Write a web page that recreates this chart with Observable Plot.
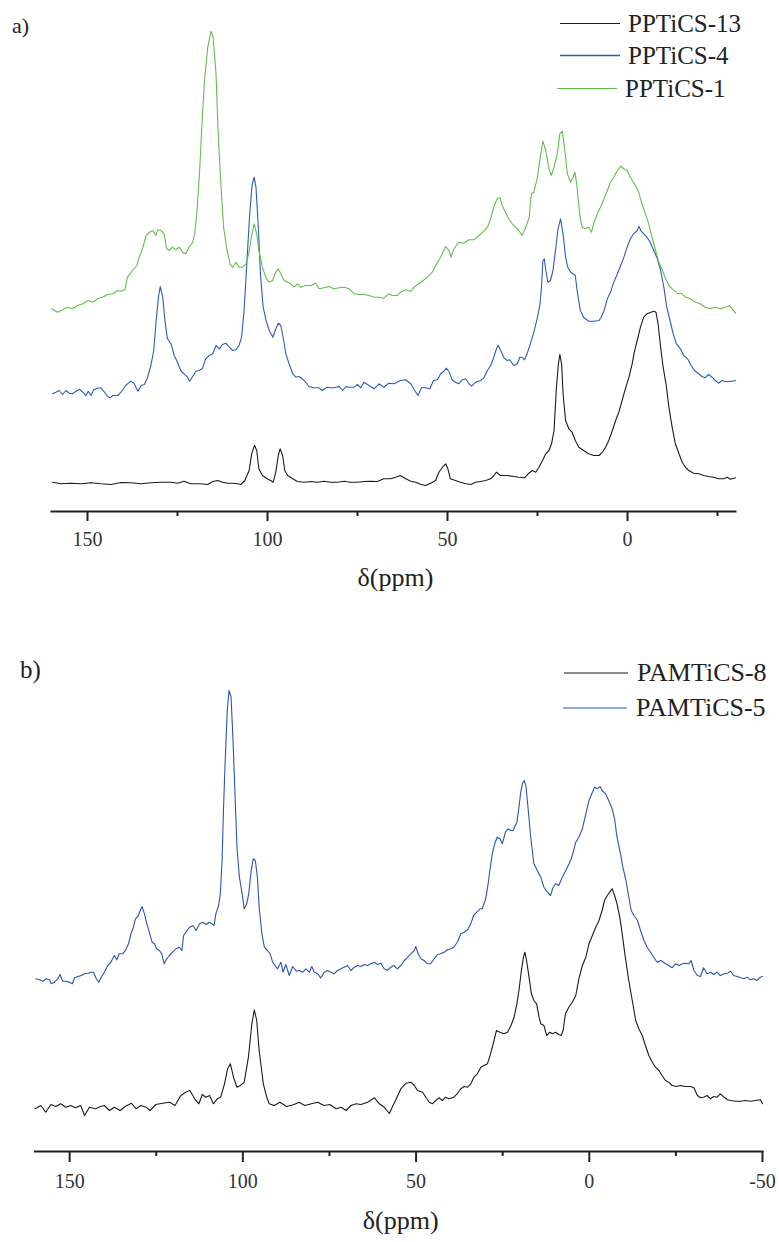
<!DOCTYPE html>
<html><head><meta charset="utf-8">
<script src="https://cdn.jsdelivr.net/npm/d3@7"></script>
<script src="https://cdn.jsdelivr.net/npm/@observablehq/plot@0.6"></script>
<style>
body{margin:0;background:#fff;}
#wrap{position:relative;width:779px;height:1242px;overflow:hidden;font-family:"Liberation Serif","Times New Roman",serif;color:#222;}
.panel{position:absolute;left:0;}
.lbl{position:absolute;line-height:1;white-space:nowrap;}
.leg{position:absolute;line-height:1;display:flex;align-items:center;white-space:nowrap;transform:translateY(-50%);}
.leg svg{display:block;}
</style></head><body>
<div id="wrap">
  <div id="pa" class="panel" style="top:0"></div>
  <div id="pb" class="panel" style="top:610px"></div>
</div>
<script>
// ---------- tick labels ----------
const ticksA = [150, 100, 50, 0];
const minorA = [125, 75, 25, -25];
const ticksB = [150, 100, 50, 0, -50];
const minorB = [125, 75, 25, -25];

// ---------- series names ----------
const namesA = ["PPTiCS-13", "PPTiCS-4", "PPTiCS-1"];
const namesB = ["PAMTiCS-8", "PAMTiCS-5"];

// ---------- panel a: [ppm, intensity (a.u., stacked offset)] ----------
const pptics13 = [[159.7,29.3],[157.4,27.7],[154.6,28.3],[151.8,27.7],[149.0,28.7],[146.3,27.7],[143.5,27],[140.7,29],[138.0,28.7],[135.1,27.7],[132.4,28.7],[129.6,29.3],[126.8,29.3],[125.0,28.3],[123.2,30.3],[121.3,27.7],[118.6,27.7],[116.6,27],[115.2,30],[113.9,31],[112.5,29.3],[111.1,28.3],[109.7,28.3],[108.3,27.7],[107.4,27],[106.3,31],[105.1,41],[104.4,57.7],[103.6,66.3],[103.0,61],[102.4,42.7],[101.4,36],[100.1,32.7],[99.1,31],[98.4,29.3],[97.7,39.3],[97.0,56],[96.5,62.7],[95.8,56],[95.2,41],[94.4,36],[93.0,32.7],[91.7,30],[89.8,29.3],[88.0,30],[86.1,29.3],[84.3,30.3],[82.5,29.3],[80.6,29.3],[78.7,30.3],[76.9,29.3],[75.0,29.3],[73.2,30],[71.3,30.3],[69.5,30],[67.7,32.7],[65.8,32.7],[64.4,34.3],[63.1,36],[61.6,32.7],[60.2,30.3],[58.8,29.3],[57.4,27],[56.1,26],[54.7,28.3],[53.3,31],[52.4,39.3],[51.4,44.3],[50.5,47.7],[49.9,42.7],[49.2,32.7],[47.8,31],[46.4,29.3],[44.9,27.7],[43.5,27],[42.2,29.3],[40.8,30],[39.4,31],[38.0,32.7],[37.1,36],[36.4,39.3],[35.3,36],[33.4,36],[31.6,35],[30.2,34.3],[28.6,33.7],[27.6,37.7],[26.4,41],[25.5,39.3],[24.6,44.3],[23.6,51],[22.7,57.7],[21.8,61],[21.1,67.7],[20.4,81],[19.8,121],[19.2,147.7],[18.8,157],[18.3,147.7],[17.9,117.7],[17.2,91],[16.3,82.7],[15.4,79.3],[14.5,71],[13.5,64.3],[12.2,61],[10.8,57.7],[9.4,56],[7.9,56],[7.0,59.3],[6.1,64.3],[5.2,71],[4.2,81],[3.3,91],[2.4,99.3],[1.5,111],[0.6,122.7],[-0.4,134.3],[-1.3,147.7],[-1.9,159.3],[-2.7,171],[-3.6,184.3],[-4.5,194.3],[-5.4,197.7],[-6.5,199.3],[-7.3,200.3],[-7.9,199.3],[-8.5,187.7],[-9.2,164.3],[-9.9,144.3],[-10.7,127.7],[-11.5,104.3],[-12.4,84.3],[-13.3,67.7],[-14.3,57.7],[-15.2,49.3],[-16.1,44.3],[-17.0,41],[-18.4,38.3],[-19.8,37.7],[-21.2,36],[-22.5,35],[-23.9,34.3],[-25.3,32.7],[-26.8,32.7],[-27.7,34.3],[-28.6,32.3],[-30.0,33.7]];

const pptics4 = [[159.7,117.7],[158.8,119.3],[157.9,121],[156.9,117],[156.0,121],[155.1,118.3],[154.2,117.7],[153.2,120.3],[152.2,122.3],[151.3,119.3],[150.4,116],[149.8,120.3],[149.0,116],[148.3,121.7],[147.2,123.3],[146.3,123.7],[145.3,119.3],[144.4,115],[143.7,113.7],[143.0,116],[141.6,116],[140.7,119.3],[139.4,126],[138.0,130.3],[137.1,128.3],[136.0,120.3],[135.1,126],[134.2,127],[133.3,134.3],[132.4,146],[131.6,161],[131.0,187.7],[130.3,214.3],[129.8,225],[129.1,214.3],[128.5,191],[127.8,172.7],[126.8,167.7],[125.9,156],[125.0,149.3],[124.1,141],[123.2,137.7],[122.2,134.3],[121.6,130.3],[120.9,134.3],[119.9,140.3],[119.0,141],[118.1,142.7],[117.2,152.7],[116.2,156],[115.2,157.7],[114.3,166],[113.4,162.7],[112.5,167],[111.6,168.3],[110.6,164.3],[109.7,161],[108.8,161.7],[107.9,166],[107.2,174.3],[106.5,201],[105.8,244.3],[105.0,294.3],[104.3,326],[103.7,334.3],[103.2,324.3],[102.6,287.7],[101.9,234.3],[101.2,204.3],[100.4,191],[99.5,181],[98.5,174.3],[97.7,182.7],[97.0,188.3],[96.3,186],[95.5,171],[94.9,157.7],[94.0,147.7],[93.0,137.7],[92.1,134.3],[91.2,135],[89.8,131],[88.5,125],[87.1,123.7],[85.7,123.7],[84.8,121],[83.4,124.3],[82.5,123.7],[81.6,123.7],[80.1,125],[79.1,121],[78.2,125],[77.3,124.3],[75.9,124.3],[75.0,127],[74.1,123.7],[73.2,129.3],[71.8,126],[70.4,122.7],[69.0,127.7],[67.7,124.3],[66.3,128.3],[64.9,127.7],[63.5,130.3],[63.0,131],[61.6,131.7],[60.2,127.7],[59.1,121],[58.2,116],[57.2,123.7],[56.1,123.7],[54.9,122.7],[53.9,131],[52.8,131.7],[51.9,137.7],[51.0,140.3],[50.3,143.3],[49.5,139.3],[48.7,131.7],[47.8,129.3],[46.9,127.7],[45.9,131.7],[45.0,132.7],[44.0,127.7],[43.3,125.3],[42.2,129.3],[40.8,131],[39.9,133.7],[38.9,141],[38.0,146],[37.1,155],[36.4,162.7],[35.9,166],[35.3,161.7],[34.3,153.7],[33.4,151],[32.7,151.7],[31.6,146],[30.6,147.7],[29.9,154.3],[29.3,154.3],[28.6,151.7],[27.9,157.7],[27.0,167.7],[26.0,179.3],[25.0,194.3],[24.3,207.7],[23.9,224.3],[23.5,251],[23.1,252.7],[22.7,241],[22.1,229.3],[21.4,231],[20.7,241],[20.0,261],[19.3,282.7],[18.6,292.7],[17.9,277.7],[17.2,254.3],[16.6,244.3],[15.8,239.3],[15.1,237.7],[14.5,236],[14.0,221],[13.1,201],[12.2,194.3],[10.8,190.3],[9.4,190.3],[7.9,191],[7.3,194.3],[6.5,201],[5.6,212.7],[4.7,219.3],[3.8,229.3],[2.8,237.7],[1.9,246],[1.0,254.3],[0.1,264.3],[-0.8,272.7],[-1.7,277.7],[-2.7,281],[-3.2,285],[-3.8,280.3],[-4.5,277.7],[-5.4,274.3],[-6.3,269.3],[-7.3,261],[-8.3,252.7],[-9.2,241],[-10.1,224.3],[-10.9,204.3],[-11.8,191],[-12.7,177.7],[-13.6,167.7],[-14.7,162.7],[-15.6,156],[-16.7,152.7],[-17.5,147],[-18.6,141],[-19.8,137.7],[-20.7,135],[-21.6,133.7],[-22.5,137],[-23.5,134.3],[-24.4,131],[-25.3,128.3],[-26.3,131],[-27.2,130],[-28.6,130],[-30.0,131]];

const pptics1 = [[159.9,202.7],[158.3,199.3],[156.9,201.7],[155.6,204.3],[154.2,202.7],[152.8,206],[151.3,207.7],[149.9,211],[148.5,209.3],[147.2,212.7],[145.8,214.3],[144.4,217],[143.0,217.7],[141.6,221],[140.7,220.3],[139.6,221.7],[138.9,234.3],[137.5,241],[136.3,246],[135.6,254.3],[134.6,264.3],[133.7,276],[132.8,279.3],[131.9,281],[131.0,276],[130.5,281.7],[129.6,281],[128.7,277.7],[128.0,262.7],[127.3,261],[126.4,264.3],[125.5,261.7],[124.5,264.3],[123.6,259.3],[122.7,257.7],[121.8,264.3],[120.8,269.3],[120.2,277.7],[119.5,304.3],[118.8,344.3],[118.2,387.7],[117.5,431],[116.6,464.3],[115.7,480.3],[115.1,474.3],[114.3,437.7],[113.7,377.7],[112.9,324.3],[112.2,284.3],[111.3,262.7],[110.4,247.7],[109.7,244.3],[108.8,249.3],[107.9,244.3],[106.9,244.3],[106.0,247.7],[105.1,259.3],[104.5,274.3],[103.7,287.7],[103.0,277.7],[102.4,261],[101.4,244.3],[100.5,234.3],[99.6,229.3],[98.6,231],[97.7,239.3],[97.0,242.7],[96.3,237.7],[95.4,231],[94.4,229.3],[93.5,227.7],[92.6,224.3],[91.7,227.7],[90.8,224.3],[89.4,226],[88.0,226],[86.6,228.3],[85.7,222.7],[84.3,223.7],[82.9,225],[81.6,222.7],[80.1,223.7],[78.7,224.3],[77.3,222.7],[75.9,217.7],[74.6,217],[73.2,217],[71.8,216],[70.4,214.3],[69.0,214.3],[67.7,213.3],[66.3,217.7],[65.3,216],[64.0,216],[63.0,219.3],[61.6,221.7],[60.2,220],[59.3,224.3],[57.4,229.3],[55.6,234.3],[54.2,239.3],[53.3,246],[51.9,254.3],[50.5,265],[49.6,261],[49.0,254.3],[48.2,262.7],[46.9,269.3],[45.5,268.3],[44.0,271.7],[42.6,271.7],[41.2,276],[39.9,280.3],[38.9,284.3],[38.0,292.7],[37.1,305],[36.2,312.7],[35.4,313.7],[34.8,306],[33.9,299.3],[33.0,292.7],[32.0,287.7],[31.1,284.3],[30.2,281],[29.3,276],[28.4,282.7],[27.3,294.3],[26.7,317.7],[26.0,319.3],[25.0,334.3],[24.1,357.7],[23.5,370.3],[22.7,361],[21.8,342.7],[21.2,336],[20.4,344.3],[19.5,357.7],[18.8,377.7],[18.1,380.3],[17.5,364.3],[16.7,337.7],[15.8,329.3],[15.1,334.3],[14.6,339.3],[14.0,324.3],[13.3,297.7],[12.6,284.3],[11.7,282.7],[10.8,284.3],[10.0,279.3],[9.4,287.7],[8.4,297.7],[7.5,304.3],[6.5,312.7],[5.6,321],[4.7,329.3],[3.8,334.3],[2.8,341],[1.9,345.3],[1.0,342.7],[0.1,341],[-0.8,334.3],[-2.2,326],[-3.1,319.3],[-4.0,307.7],[-5.0,297.7],[-5.9,287.7],[-6.8,274.3],[-7.8,261],[-8.7,249.3],[-9.7,241],[-10.6,232.7],[-11.5,226],[-12.4,222.7],[-13.8,218.3],[-15.2,217.7],[-16.1,214.3],[-17.5,212.7],[-18.9,209.3],[-20.2,207.7],[-21.6,204.3],[-23.0,202.7],[-24.4,204.3],[-25.9,202.7],[-27.2,204.3],[-28.4,206],[-29.1,202.7],[-30.0,198.3]];

// ---------- panel b: [ppm, intensity (a.u., stacked offset)] ----------
const pamtics8 = [[160.0,42.7],[158.3,46],[156.9,39.3],[155.4,47],[154.0,45],[152.6,47.7],[151.1,44.3],[149.7,46],[148.3,43.7],[146.8,46],[145.7,36],[144.3,44.3],[142.5,42.7],[141.1,45],[140.0,46],[138.5,41],[137.1,44.3],[135.4,41],[134.0,45],[132.2,48.3],[130.8,42.7],[129.4,46],[127.9,44.3],[126.8,41],[125.1,47],[123.2,48.3],[121.1,49.3],[119.6,46],[117.9,56],[116.5,59.3],[115.3,61],[113.9,52.7],[112.7,47.7],[111.7,57],[110.7,54.3],[109.6,56],[108.5,47.7],[107.4,52.7],[106.4,54.3],[105.3,67.7],[104.4,82.7],[103.6,87.7],[102.7,74.3],[101.7,64.3],[100.7,66],[99.6,69.3],[98.4,94.3],[97.4,127.7],[96.7,141.7],[96.0,131],[95.3,101],[94.1,67.7],[93.1,54.3],[92.4,47.7],[91.0,46],[89.3,49.3],[87.4,45],[85.2,47],[83.8,49.3],[82.1,46],[80.2,47.7],[78.4,49.3],[76.6,46],[74.9,47],[73.1,42.7],[71.6,44.3],[70.2,41],[68.8,46],[67.3,47.7],[65.9,47],[64.0,49.3],[62.0,53.7],[60.6,47.7],[59.2,44.3],[57.7,38],[56.8,45],[55.8,52],[54.4,62.7],[52.9,68.3],[51.5,69.3],[50.5,66],[49.6,61],[48.1,59.3],[47.2,54.3],[46.2,49.3],[45.3,47.7],[44.3,51],[43.4,53.7],[42.4,51],[41.5,54.3],[40.5,52.7],[39.1,54.3],[38.1,57.7],[37.1,62.7],[36.1,65],[35.1,64.3],[34.2,67.7],[33.3,74.3],[32.3,77.7],[31.3,84.3],[30.4,86],[29.4,87.7],[28.5,97.7],[27.5,111],[26.8,121],[25.8,119.3],[24.7,117.7],[23.6,119.3],[22.6,126],[21.7,134.3],[20.9,147.7],[20.3,161],[19.6,181],[19.0,194.3],[18.6,199.3],[18.1,191],[17.4,174.3],[16.7,157.7],[16.0,151],[15.2,147.7],[14.5,134.3],[14.0,127.7],[13.1,126],[12.3,116],[11.4,119.3],[10.7,117.7],[9.7,119.3],[8.8,117],[8.1,116],[7.5,121.7],[6.9,137.7],[5.9,144.3],[4.9,149.3],[3.9,156],[3.0,172.7],[2.0,186],[1.0,194.3],[0.1,207.7],[-0.9,216],[-1.8,223.7],[-2.8,231],[-3.7,241],[-4.4,251],[-5.2,256],[-5.9,259.3],[-6.6,262.7],[-7.3,256],[-8.0,247.7],[-8.8,234.3],[-9.5,217.7],[-10.4,194.3],[-11.4,171],[-12.4,151],[-13.4,131],[-14.3,122.7],[-15.3,116],[-16.2,106],[-17.2,96],[-18.2,89.3],[-19.1,84.3],[-20.1,81],[-21.0,76],[-22.0,71],[-22.9,69.3],[-23.9,66],[-25.1,65],[-26.3,66],[-27.7,65],[-29.2,65],[-30.2,63.7],[-31.2,56],[-32.1,53.7],[-33.0,54.3],[-34.0,56],[-35.0,52.7],[-35.9,55],[-36.9,54.3],[-37.8,57.7],[-38.9,54.3],[-39.9,51.7],[-40.8,51],[-42.2,50.3],[-43.7,50.3],[-45.1,51],[-46.5,50.3],[-48.0,51],[-49.4,51.7],[-50.0,47.7]];

const pamtics5 = [[159.8,172.7],[158.7,171.7],[157.7,170.3],[156.8,172.7],[155.8,171.7],[155.3,167.7],[154.4,169.3],[153.4,172.7],[152.8,177],[152.0,170.3],[151.0,170.3],[150.0,169.3],[149.2,167.7],[148.6,173.7],[147.6,175],[146.6,176],[145.7,177.7],[144.7,178.3],[143.8,179.3],[143.1,179.3],[142.3,172.7],[141.6,169.3],[140.9,174.3],[140.0,179.3],[139.0,186],[138.1,189.3],[137.1,196],[136.4,191.7],[135.7,197.7],[134.7,197.7],[133.8,201.7],[133.0,207.7],[132.3,217.7],[131.6,224.3],[131.0,232.7],[130.3,235],[129.6,241],[129.1,245],[128.4,237.7],[127.7,227.7],[127.0,219.3],[126.2,209.3],[125.5,207.7],[124.9,202.7],[124.1,201],[123.4,197.7],[122.7,187.7],[122.0,192.7],[121.2,196],[120.3,199.3],[119.3,202.7],[118.4,204.3],[117.6,201],[117.1,216],[116.4,219.3],[115.4,224.3],[114.4,226],[113.5,221],[112.5,227.7],[111.6,229.3],[110.6,227],[109.7,229.3],[108.9,227.7],[108.3,226],[107.8,237.7],[107.0,246],[106.5,257.7],[106.0,291],[105.6,341],[105.1,391],[104.5,441],[104.0,461],[103.4,454.3],[102.8,407.7],[102.2,351],[101.7,304.3],[101.0,274.3],[100.2,257.7],[99.6,242.7],[98.9,247.7],[98.3,257.7],[97.6,281],[97.0,292.7],[96.4,291],[95.8,274.3],[95.3,244.3],[94.5,217.7],[93.8,204.3],[92.9,201],[92.1,197.7],[91.4,189.3],[90.7,186],[90.0,182.7],[89.0,189.3],[88.4,179.3],[87.6,187],[86.6,176],[85.6,185],[84.6,180.3],[83.7,181],[82.7,179.3],[81.8,182.7],[80.8,179.3],[80.1,185],[79.4,179.3],[78.4,177.7],[77.5,173.7],[76.5,179.3],[75.6,181],[74.6,179.3],[73.7,177.7],[72.7,181],[71.7,182.7],[70.8,184.3],[69.8,186],[68.8,181],[67.8,184.3],[66.9,186],[65.9,185],[65.0,187],[64.0,186],[63.1,187.7],[62.1,189.3],[61.1,187],[60.2,188.3],[59.2,182.7],[58.3,181],[57.3,184.3],[56.4,186],[55.4,182.7],[54.4,186],[53.4,191],[52.4,194.3],[51.5,197.7],[50.5,201],[50.1,205],[49.4,197.7],[48.6,192.7],[47.7,191],[46.7,187.7],[45.8,187.7],[44.8,192.7],[43.8,197],[42.9,197.7],[41.9,199.3],[41.0,201.7],[40.0,202.7],[39.1,204.3],[38.1,209.3],[37.1,217.7],[36.1,219.3],[35.1,221.7],[34.2,227.7],[33.4,236],[32.5,239.3],[31.5,242.7],[30.9,242.7],[29.9,252.7],[29.2,267.7],[28.7,281],[28.0,297.7],[27.3,307.7],[26.6,314.3],[25.8,312.7],[25.1,307.7],[24.2,319.3],[23.5,322.7],[22.7,321],[22.0,321],[20.9,329.3],[20.3,344.3],[19.8,359.3],[19.3,367.7],[18.8,371],[18.3,366],[17.7,344.3],[16.9,314.3],[16.0,287.7],[15.0,281],[14.0,274.3],[13.1,264.3],[12.1,259.3],[11.2,256],[10.4,264.3],[9.7,267.7],[8.8,266],[7.8,274.3],[6.8,281],[5.8,287.7],[4.9,296],[3.9,309.3],[3.0,314.3],[2.0,322.7],[1.0,337.7],[0.1,351],[-0.9,359.3],[-1.5,364.3],[-2.3,362.7],[-3.1,365],[-3.7,361],[-4.7,357.7],[-5.6,351],[-6.6,342.7],[-7.3,332.7],[-8.0,314.3],[-9.0,297.7],[-9.7,284.3],[-10.6,271],[-11.4,254.3],[-12.1,241],[-12.9,236],[-13.9,231],[-14.8,221],[-15.8,211],[-16.7,204.3],[-17.7,199.3],[-18.6,194.3],[-19.6,189.3],[-20.7,191],[-22.0,187.7],[-22.9,186],[-23.9,183.7],[-24.9,187.7],[-25.9,186],[-26.9,187.7],[-27.8,188.3],[-28.7,187.7],[-29.4,191],[-30.2,181],[-31.2,176],[-32.1,175],[-33.0,183.7],[-34.0,177.7],[-35.0,179.3],[-35.9,177],[-36.9,179.3],[-37.8,176],[-38.9,177.7],[-39.9,178.3],[-40.8,180.3],[-41.7,176],[-42.7,175],[-43.7,173.7],[-44.6,172.7],[-45.6,174.3],[-46.5,171.7],[-47.5,172.7],[-48.4,171],[-49.4,174.3],[-50.0,175]];

// ---------- styling ----------
const colorsA = ["#1b1b1b", "#2d5cb8", "#63bd4f"];
const colorsB = ["#1b1b1b", "#2a56b2"];
const FONT = "Liberation Serif, Times New Roman, serif";

const toRows = arr => arr.map(([ppm, v]) => ({ppm, v}));

const plotA = Plot.plot({
  width: 779, height: 610,
  marginLeft: 51, marginRight: 44, marginTop: 11, marginBottom: 99,
  x: {domain: [160, -30], axis: null},
  y: {domain: [0, 500], axis: null},
  style: {fontFamily: FONT, background: "transparent", overflow: "visible", color: "#222"},
  marks: [
    Plot.line(toRows(pptics13), {x: "ppm", y: "v", stroke: colorsA[0], strokeWidth: 1.1}),
    Plot.line(toRows(pptics4), {x: "ppm", y: "v", stroke: colorsA[1], strokeWidth: 1.1}),
    Plot.line(toRows(pptics1), {x: "ppm", y: "v", stroke: colorsA[2], strokeWidth: 1.1}),
    Plot.frame({anchor: "bottom", stroke: "#222", strokeWidth: 2}),
    Plot.axisX({ticks: ticksA, tickSize: 10, tickPadding: 10, tickFormat: d => String(d), fontSize: 20, stroke: "#222", strokeWidth: 2, fill: "#333", label: null}),
    Plot.axisX({ticks: minorA, tickSize: 5, tickFormat: () => "", stroke: "#222", strokeWidth: 2, label: null}),
    Plot.text(["δ(ppm)"], {frameAnchor: "bottom", dy: 74, dx: 2, fontSize: 26, fill: "#222"})
  ]
});
document.getElementById("pa").appendChild(plotA);

const plotB = Plot.plot({
  width: 779, height: 632,
  marginLeft: 34.5, marginRight: 17, marginTop: 41, marginBottom: 91,
  x: {domain: [160, -50], axis: null},
  y: {domain: [0, 500], axis: null},
  style: {fontFamily: FONT, background: "transparent", overflow: "visible", color: "#222"},
  marks: [
    Plot.line(toRows(pamtics8), {x: "ppm", y: "v", stroke: colorsB[0], strokeWidth: 1.1}),
    Plot.line(toRows(pamtics5), {x: "ppm", y: "v", stroke: colorsB[1], strokeWidth: 1.1}),
    Plot.frame({anchor: "bottom", stroke: "#222", strokeWidth: 2}),
    Plot.axisX({ticks: ticksB, tickSize: 11, tickPadding: 11, tickFormat: d => String(d), fontSize: 20, stroke: "#222", strokeWidth: 2, fill: "#333", label: null}),
    Plot.axisX({ticks: minorB, tickSize: 5, tickFormat: () => "", stroke: "#222", strokeWidth: 2, label: null}),
    Plot.text(["δ(ppm)"], {frameAnchor: "bottom", dy: 77, dx: 2, fontSize: 26, fill: "#222"})
  ]
});
document.getElementById("pb").appendChild(plotB);

// ---------- panel labels & legends (HTML) ----------
const wrap = document.getElementById("wrap");
function addLabel(text, left, top, size) {
  const d = document.createElement("div");
  d.className = "lbl";
  d.style.left = left + "px"; d.style.top = top + "px"; d.style.fontSize = size + "px";
  d.textContent = text;
  wrap.appendChild(d);
}
addLabel("a)", 12, 15, 22);
addLabel("b)", 20, 657, 25);

function addLegend(names, colors, left, centers, lineW, gap, size, widths) {
  names.forEach((n, k) => {
    const row = document.createElement("div");
    row.className = "leg";
    row.style.left = left[k] + "px"; row.style.top = centers[k] + "px"; row.style.fontSize = size + "px";
    const ns = "http://www.w3.org/2000/svg";
    const s = document.createElementNS(ns, "svg");
    s.setAttribute("width", lineW); s.setAttribute("height", 4);
    s.style.marginRight = gap + "px";
    const l = document.createElementNS(ns, "line");
    l.setAttribute("x1", 0); l.setAttribute("x2", lineW); l.setAttribute("y1", 2); l.setAttribute("y2", 2);
    l.setAttribute("stroke", colors[k]); l.setAttribute("stroke-width", widths[k]);
    s.appendChild(l);
    const t = document.createElement("span");
    t.textContent = n;
    row.appendChild(s); row.appendChild(t);
    wrap.appendChild(row);
  });
}
addLegend(namesA, colorsA, [560, 560, 557], [23, 55, 88], 60, 8, 25, [1.1, 1.6, 1.1]);
addLegend(namesB, colorsB, [564, 563], [673, 708], 64, 9, 26, [1.1, 1.1]);
</script>
</body></html>
